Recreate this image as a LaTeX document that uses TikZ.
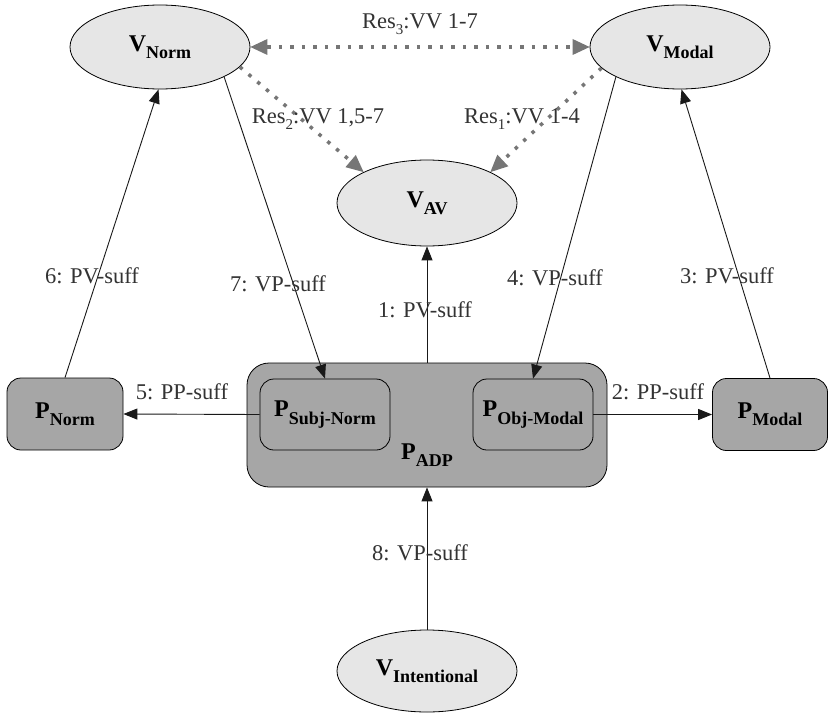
\documentclass[tikz,border=0pt]{standalone}
\usepackage{fontspec}
\setmainfont{Liberation Serif}
\usetikzlibrary{shapes.geometric,arrows.meta}
\definecolor{ellfill}{HTML}{E6E6E6}
\definecolor{boxfill}{HTML}{A6A6A6}
\definecolor{dotgray}{HTML}{767676}
\definecolor{lblgray}{HTML}{333333}
\newcommand{\nodetxt}[2]{\textbf{#1}\raisebox{-0.3em}{\fontsize{18}{18}\selectfont\bfseries #2}}
\newcommand{\ressub}[1]{\raisebox{-0.25em}{\fontsize{15}{15}\selectfont #1}}
\tikzset{
  ell/.style={ellipse, draw=black, line width=0.8pt, fill=ellfill, minimum width=180pt, minimum height=84pt, inner sep=0pt, font=\fontsize{24}{28}\selectfont},
  pbox/.style={draw=black, line width=0.8pt, fill=boxfill, rounded corners=14pt, inner sep=0pt, font=\fontsize{24}{28}\selectfont},
  lbl/.style={text=lblgray, font=\fontsize{22.5}{26}\selectfont, inner sep=0pt, anchor=base},
  conn/.style={draw=black!90, line width=0.9pt, -{Triangle[length=14pt,width=11pt]}},
  restip/.tip={Triangle[length=17pt,width=16pt,line width=0pt]},
  resline/.style={draw=dotgray, line width=3.5pt, dash pattern=on 3.5pt off 8pt}
}
\begin{document}
\begin{tikzpicture}[x=1pt,y=-1pt]
\fill[white] (0,0) rectangle (829,714);
\useasboundingbox (0,0) rectangle (829,714);
% ellipses
\node[ell] (vnorm) at (160,47) {\nodetxt{V}{Norm}};
\node[ell] (vmodal) at (680,47) {\nodetxt{V}{Modal}};
\node[ell, minimum height=86pt] (vav) at (427,203) {\nodetxt{V}{AV}};
\node[ell, minimum height=82pt] (vint) at (427,671) {\nodetxt{V}{Intentional}};
% boxes
\node[pbox, minimum width=360pt, minimum height=124pt, rounded corners=22pt] (padp) at (427,425) {};
\node[font=\fontsize{24}{28}\selectfont, inner sep=0pt] (padplbl) at (427,455) {\nodetxt{P}{ADP}};
\node[pbox, minimum width=130pt, minimum height=71pt] (psubj) at (325,414.5) {\nodetxt{P}{Subj-Norm}};
\node[pbox, minimum width=120pt, minimum height=71pt] (pobj) at (533,414.5) {\nodetxt{P}{Obj-Modal}};
\node[pbox, minimum width=116pt, minimum height=72pt] (pnorm) at (65,414) {\nodetxt{P}{Norm}};
\node[pbox, minimum width=115pt, minimum height=72pt] (pmodal) at (770,414.5) {\nodetxt{P}{Modal}};
% solid connectors
\draw[conn] (padp.north) -- (vav.south);
\draw[conn] (vint.north) -- (padp.south);
\draw[conn] (pnorm.north) -- (vnorm.268);
\draw[conn] (vnorm.-25) -- (psubj.north);
\draw[conn] (vmodal.205) -- (pobj.north);
\draw[conn] (pmodal.north) -- (vmodal.-88);
\draw[conn] (psubj.west) -- (pnorm.east);
\draw[conn] (pobj.east) -- (pmodal.west);
% dotted connectors
\draw[resline, {restip[fill=dotgray]}-{restip[fill=dotgray]}] (vnorm.east) -- (vmodal.west);
\draw[resline, -{restip[fill=dotgray]}] (vnorm.-14) -- (vav.154);
\draw[resline, -{restip[fill=dotgray]}] (vmodal.195) -- (vav.26);
% labels
\node[lbl] (l3r) at (420,29) {Res\ressub{3}:VV 1-7};
\node[lbl] (l2r) at (318,124) {Res\ressub{2}:VV 1,5-7};
\node[lbl] (l1r) at (522,124) {Res\ressub{1}:VV 1-4};
\node[lbl] (l6) at (92,283) {6: PV-suff};
\node[lbl] (l7) at (278,291) {7: VP-suff};
\node[lbl] (l4) at (555,285) {4: VP-suff};
\node[lbl] (l3) at (727,283) {3: PV-suff};
\node[lbl] (l1) at (425,317) {1: PV-suff};
\node[lbl] (l5) at (182,399) {5: PP-suff};
\node[lbl] (l2) at (658,399) {2: PP-suff};
\node[lbl] (l8) at (420,560) {8: VP-suff};
\end{tikzpicture}
\end{document}
